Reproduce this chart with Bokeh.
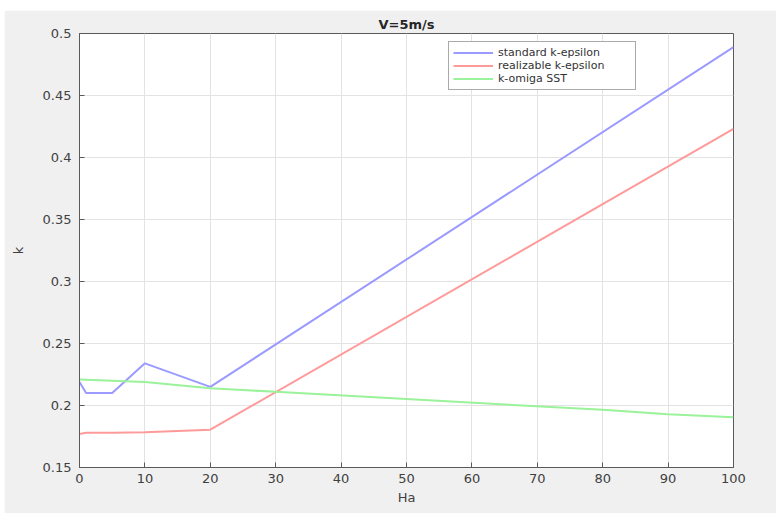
from bokeh.plotting import figure
from bokeh.models import FixedTicker, Legend, LegendItem, Range1d, Spacer
from bokeh.layouts import column, row
from bokeh.embed import file_html
from bokeh.resources import INLINE

# ---- data ----
ha_std = [0, 1, 5, 10, 20, 100]
k_std = [0.219, 0.210, 0.210, 0.234, 0.215, 0.489]

ha_real = [0, 1, 5, 10, 20, 100]
k_real = [0.177, 0.178, 0.178, 0.1785, 0.1805, 0.423]

ha_sst = [0, 10, 20, 30, 80, 90, 100]
k_sst = [0.221, 0.219, 0.214, 0.211, 0.1965, 0.193, 0.1906]

x_ticks = [0, 10, 20, 30, 40, 50, 60, 70, 80, 90, 100]
y_ticks = [0.15, 0.2, 0.25, 0.3, 0.35, 0.4, 0.45, 0.5]
y_tick_labels = ["0.15", "0.2", "0.25", "0.3", "0.35", "0.4", "0.45", "0.5"]

series_names = ["standard k-epsilon", "realizable k-epsilon", "k-omiga SST"]
series_colors = ["#9a9aff", "#ff9a9a", "#9af29a"]

FONT = "DejaVu Sans"
BG = "#f0f0f0"
AXC = "#5a5a5a"
TXT = "#404040"

p = figure(frame_width=654, frame_height=434,
           min_border_left=75, min_border_right=43,
           min_border_top=23, min_border_bottom=46,
           x_range=Range1d(0, 100), y_range=Range1d(0.15, 0.5),
           output_backend="svg", toolbar_location=None,
           title="V=5m/s")
p.border_fill_color = BG
p.background_fill_color = "white"
p.outline_line_color = AXC

p.title.align = "center"
p.title.text_font = FONT
p.title.text_font_size = "13px"
p.title.text_font_style = "bold"
p.title.text_color = "#262626"
p.title.standoff = 3

yt = FixedTicker(ticks=y_ticks)
xt = FixedTicker(ticks=x_ticks)

for ax in (p.xaxis[0], p.yaxis[0]):
    ax.axis_line_color = AXC
    ax.major_tick_line_color = AXC
    ax.major_tick_in = 5
    ax.major_tick_out = 0
    ax.minor_tick_line_color = None
    ax.major_label_text_font = FONT
    ax.major_label_text_font_size = "13px"
    ax.major_label_text_color = TXT
    ax.axis_label_text_font = FONT
    ax.axis_label_text_font_size = "13px"
    ax.axis_label_text_font_style = "normal"
    ax.axis_label_text_color = TXT

p.xaxis.ticker = xt
p.yaxis.ticker = yt
p.yaxis.major_label_overrides = {t: l for t, l in zip(y_ticks, y_tick_labels)}
p.xaxis.axis_label = "Ha"
p.yaxis.axis_label = "k"
p.xaxis.major_label_standoff = 6
p.yaxis.major_label_standoff = 8
p.xaxis.axis_label_standoff = 4
p.yaxis.axis_label_standoff = 14

p.xgrid.ticker = xt
p.ygrid.ticker = yt
p.grid.grid_line_color = "#e3e3e3"
p.grid.grid_line_width = 1

r1 = p.line(ha_std, k_std, line_color=series_colors[0], line_width=2)
r2 = p.line(ha_real, k_real, line_color=series_colors[1], line_width=2)
r3 = p.line(ha_sst, k_sst, line_color=series_colors[2], line_width=2)

legend = Legend(items=[LegendItem(label=series_names[0], renderers=[r1]),
                       LegendItem(label=series_names[1], renderers=[r2]),
                       LegendItem(label=series_names[2], renderers=[r3])],
                location=(369, 377))
legend.label_text_font = FONT
legend.label_text_font_size = "11px"
legend.label_text_color = "#333333"
legend.glyph_width = 40
legend.glyph_height = 13
legend.label_height = 13
legend.label_width = 133
legend.label_standoff = 5
legend.spacing = 0
legend.padding = 4
legend.margin = 0
legend.border_line_color = "#555555"
legend.background_fill_color = "white"
legend.background_fill_alpha = 1
p.add_layout(legend, "center")

layout = column(Spacer(height=10), row(Spacer(width=4), p))

open("out.html", "w").write(file_html(layout, INLINE))
